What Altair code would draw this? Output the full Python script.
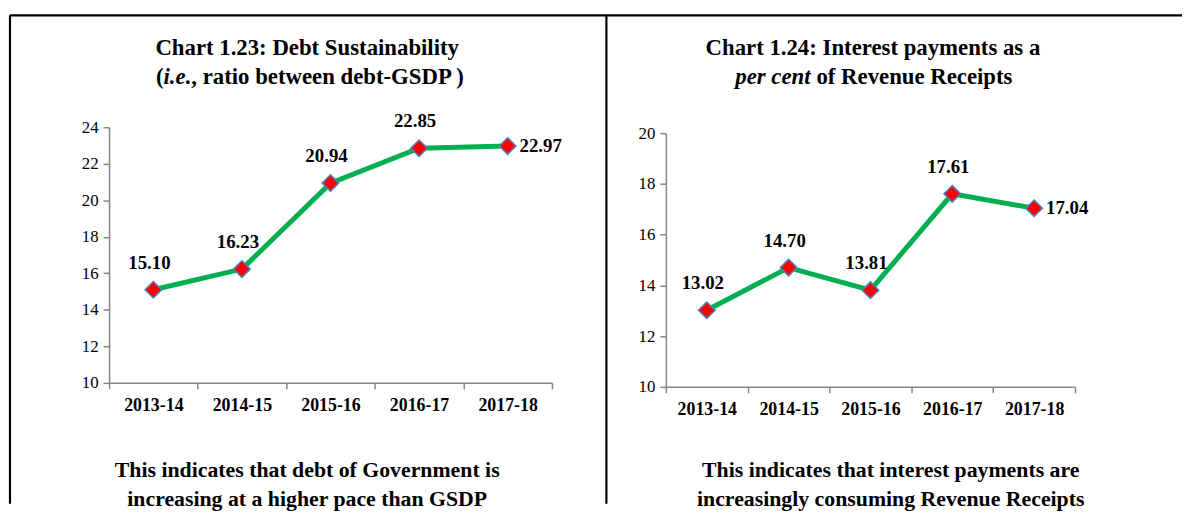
import altair as alt
import pandas as pd

# ---- data ----
years = ["2013-14", "2014-15", "2015-16", "2016-17", "2017-18"]
debt_gsdp = [15.10, 16.23, 20.94, 22.85, 22.97]
interest_rr = [13.02, 14.70, 13.81, 17.61, 17.04]

left_ticks = [10, 12, 14, 16, 18, 20, 22, 24]
right_ticks = [10, 12, 14, 16, 18, 20]

SERIF = "Liberation Serif"
GREEN = "#00b050"
AXIS_GREY = "#868686"

df_left = pd.DataFrame({"year": years, "value": debt_gsdp})
df_right = pd.DataFrame({"year": years, "value": interest_rr})
one = pd.DataFrame({"k": [0]})


def x_enc():
    return alt.X(
        "year:N",
        sort=years,
        bandPosition=0.5,
        scale=alt.Scale(type="band", paddingInner=0, paddingOuter=0),
        axis=alt.Axis(
            title=None,
            labelAngle=0,
            labelFont=SERIF,
            labelFontWeight="bold",
            labelFontSize=18,
            labelColor="black",
            labelPadding=8,
            tickBand="extent",
            tickSize=6,
            tickColor=AXIS_GREY,
            domainColor=AXIS_GREY,
            domainWidth=1.5,
            tickWidth=1.5,
        ),
    )


def y_enc(domain, ticks, rng=None):
    sc = dict(domain=domain, nice=False, zero=False)
    if rng is not None:
        sc["range"] = rng
    return alt.Y(
        "value:Q",
        scale=alt.Scale(**sc),
        axis=alt.Axis(
            title=None,
            values=ticks,
            grid=False,
            labelFont=SERIF,
            labelFontSize=17,
            labelColor="black",
            labelPadding=5,
            tickSize=6,
            tickColor=AXIS_GREY,
            domainColor=AXIS_GREY,
            domainWidth=1.5,
            tickWidth=1.5,
        ),
    )


def panel(df, domain, ticks, rng):
    base = alt.Chart(df)
    enc = dict(x=x_enc(), y=y_enc(domain, ticks, rng))
    line = base.mark_line(color=GREEN, strokeWidth=5).encode(**enc)
    pts = base.mark_point(
        shape="diamond", filled=True, fill="#ff0000", stroke="#4f81bd",
        strokeWidth=1.5, size=280, opacity=1
    ).encode(**enc)
    lab_above = base.transform_filter(alt.datum.year != "2017-18").mark_text(
        font=SERIF, fontWeight="bold", fontSize=19, color="black", dy=-27, dx=-4
    ).encode(text=alt.Text("value:Q", format=".2f"), **enc)
    lab_right = base.transform_filter(alt.datum.year == "2017-18").mark_text(
        font=SERIF, fontWeight="bold", fontSize=19, color="black", align="left", dx=12
    ).encode(text=alt.Text("value:Q", format=".2f"), **enc)
    return [line, pts, lab_above, lab_right]


def txt(s, x, y, size=22, style="normal", align="center"):
    return alt.Chart(one).mark_text(
        text=s, font=SERIF, fontWeight="bold", fontStyle=style, fontSize=size,
        color="black", align=align, baseline="middle"
    ).encode(x=alt.value(x), y=alt.value(y))


def rule(x, x2, y, y2):
    return alt.Chart(one).mark_rule(color="black", strokeWidth=2.2).encode(
        x=alt.value(x), x2=alt.value(x2), y=alt.value(y), y2=alt.value(y2)
    )


# ---- left panel ----
L_CX = 200
left_layers = panel(df_left, [10, 24], left_ticks, None)
left_deco = [
    rule(-100, 1083, -113, -113),
    rule(-100, -100, -113, 380),
    rule(502, 502, -113, 380),
    txt("Chart 1.23: Debt Sustainability", L_CX, -80, size=23),
    txt("(", 55, -51, size=23, align="right"),
    txt("i.e.", 55, -51, size=23, style="italic", align="left"),
    txt(", ratio between debt-GSDP )", 83, -51, size=23, align="left"),
    txt("This indicates that debt of Government is", L_CX, 346),
    txt("increasing at a higher pace than GSDP", L_CX, 375),
]
left = alt.layer(*left_layers, *left_deco).properties(width=447, height=258)

# ---- right panel ----
R_CX = 209
right_layers = panel(df_right, [10, 20], right_ticks, [262, 6])
right_deco = [
    txt("Chart 1.24: Interest payments as a", R_CX, -80, size=23),
    txt("per cent", 146, -51, size=23, style="italic", align="right"),
    txt("of Revenue Receipts", 152, -51, size=23, align="left"),
    txt("This indicates that interest payments are", 227, 346),
    txt("increasingly consuming Revenue Receipts", 227, 375),
]
right = alt.layer(*right_layers, *right_deco).properties(width=413, height=262)

chart = alt.hconcat(left, right, spacing=115, bounds="flush").properties(
    padding={"left": 0, "top": 3, "right": 0, "bottom": 0},
    autosize=alt.AutoSizeParams(type="pad"),
).configure_view(stroke=None)

chart.save("out.html", embed_options={"renderer": "svg", "actions": False})
